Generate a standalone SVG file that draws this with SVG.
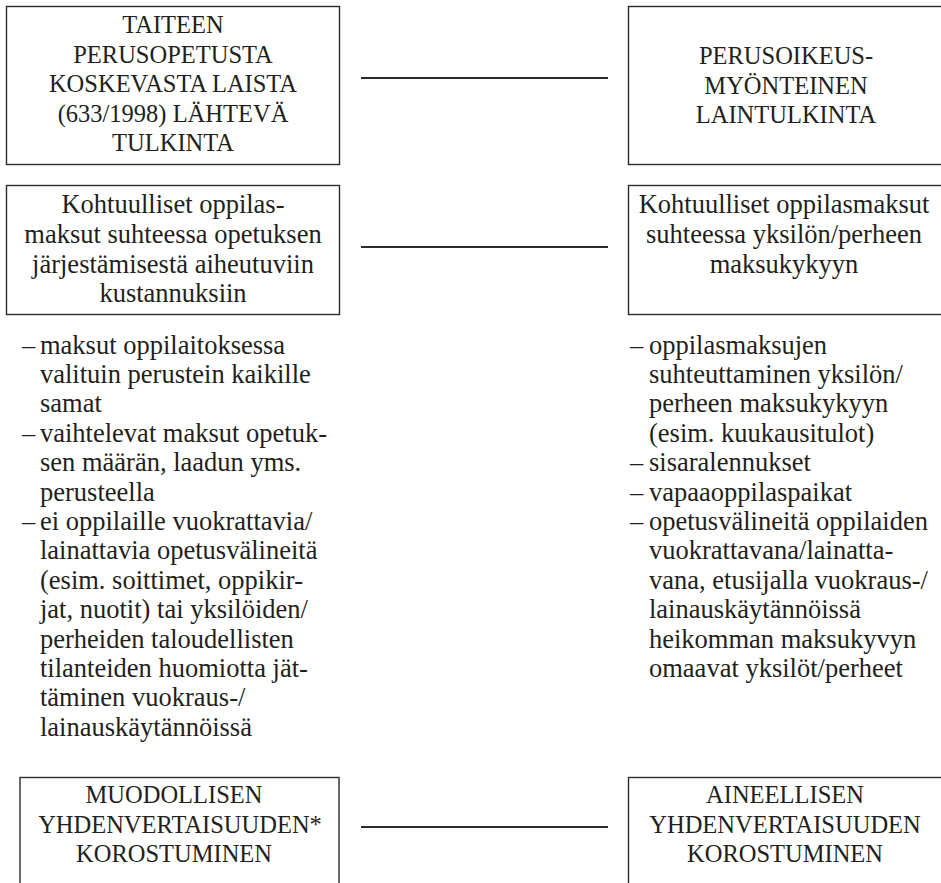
<svg xmlns="http://www.w3.org/2000/svg" width="941" height="883" viewBox="0 0 941 883">
  <style>
    .box { fill: #ffffff; stroke: #2b2b2b; stroke-width: 1.4; }
    .link { stroke: #2b2b2b; stroke-width: 2.2; fill: none; }
    text { font-family: "Liberation Serif", "Times New Roman", serif; fill: #231f20; }
    .caps { font-size: 24.5px; text-anchor: middle; }
    .mid { font-size: 26.5px; text-anchor: middle; }
    .list { font-size: 26.5px; }
  </style>
  <rect width="941" height="883" fill="#ffffff"/>

  <!-- connectors between the paired boxes -->
  <g id="connectors">
    <line class="link" x1="361" y1="78" x2="608" y2="78"/>
    <line class="link" x1="361" y1="247" x2="608" y2="247"/>
    <line class="link" x1="361" y1="827" x2="608" y2="827"/>
  </g>

  <!-- left column -->
  <g id="node-taiteen-tulkinta">
    <rect class="box" x="6.5" y="6.5" width="333" height="158"/>
    <text class="caps" x="173" y="33">TAITEEN</text>
    <text class="caps" x="173" y="62.5">PERUSOPETUSTA</text>
    <text class="caps" x="173" y="92">KOSKEVASTA LAISTA</text>
    <text class="caps" x="173" y="121.5">(633/1998) LÄHTEVÄ</text>
    <text class="caps" x="173" y="151">TULKINTA</text>
  </g>

  <g id="node-kustannukset">
    <rect class="box" x="6.5" y="185.5" width="333" height="129"/>
    <text class="mid" x="173" y="213">Kohtuulliset oppilas-</text>
    <text class="mid" x="173" y="243">maksut suhteessa opetuksen</text>
    <text class="mid" x="173" y="273">järjestämisestä aiheutuviin</text>
    <text class="mid" x="173" y="302">kustannuksiin</text>
  </g>

  <g id="list-left">
    <text class="list">
      <tspan x="22" y="353.5">–</tspan><tspan x="40" y="353.5">maksut oppilaitoksessa</tspan>
      <tspan x="40" y="382.9">valituin perustein kaikille</tspan>
      <tspan x="40" y="412.3">samat</tspan>
      <tspan x="22" y="441.7">–</tspan><tspan x="40" y="441.7">vaihtelevat maksut opetuk-</tspan>
      <tspan x="40" y="471.1">sen määrän, laadun yms.</tspan>
      <tspan x="40" y="500.5">perusteella</tspan>
      <tspan x="22" y="529.9">–</tspan><tspan x="40" y="529.9">ei oppilaille vuokrattavia/</tspan>
      <tspan x="40" y="559.3">lainattavia opetusvälineitä</tspan>
      <tspan x="40" y="588.7">(esim. soittimet, oppikir-</tspan>
      <tspan x="40" y="618.1">jat, nuotit) tai yksilöiden/</tspan>
      <tspan x="40" y="647.5">perheiden taloudellisten</tspan>
      <tspan x="40" y="676.9">tilanteiden huomiotta jät-</tspan>
      <tspan x="40" y="706.3">täminen vuokraus-/</tspan>
      <tspan x="40" y="735.7">lainauskäytännöissä</tspan>
    </text>
  </g>

  <g id="node-muodollinen">
    <rect class="box" x="20" y="777.5" width="319" height="130"/>
    <text class="caps" x="174" y="803">MUODOLLISEN</text>
    <text class="caps" x="180" y="833">YHDENVERTAISUUDEN*</text>
    <text class="caps" x="174" y="862">KOROSTUMINEN</text>
  </g>

  <!-- right column -->
  <g id="node-perusoikeus">
    <rect class="box" x="628.5" y="6.5" width="320" height="158"/>
    <text class="caps" x="786" y="64">PERUSOIKEUS-</text>
    <text class="caps" x="786" y="94">MYÖNTEINEN</text>
    <text class="caps" x="786" y="123">LAINTULKINTA</text>
  </g>

  <g id="node-maksukyky">
    <rect class="box" x="628.5" y="185.5" width="320" height="129"/>
    <text class="mid" x="784" y="213">Kohtuulliset oppilasmaksut</text>
    <text class="mid" x="784" y="243">suhteessa yksilön/perheen</text>
    <text class="mid" x="784" y="273">maksukykyyn</text>
  </g>

  <g id="list-right">
    <text class="list">
      <tspan x="630" y="353.5">–</tspan><tspan x="649" y="353.5">oppilasmaksujen</tspan>
      <tspan x="649" y="382.9">suhteuttaminen yksilön/</tspan>
      <tspan x="649" y="412.3">perheen maksukykyyn</tspan>
      <tspan x="649" y="441.7">(esim. kuukausitulot)</tspan>
      <tspan x="630" y="471.1">–</tspan><tspan x="649" y="471.1">sisaralennukset</tspan>
      <tspan x="630" y="500.5">–</tspan><tspan x="649" y="500.5">vapaaoppilaspaikat</tspan>
      <tspan x="630" y="529.9">–</tspan><tspan x="649" y="529.9">opetusvälineitä oppilaiden</tspan>
      <tspan x="649" y="559.3">vuokrattavana/lainatta-</tspan>
      <tspan x="649" y="588.7">vana, etusijalla vuokraus-/</tspan>
      <tspan x="649" y="618.1">lainauskäytännöissä</tspan>
      <tspan x="649" y="647.5">heikomman maksukyvyn</tspan>
      <tspan x="649" y="676.9">omaavat yksilöt/perheet</tspan>
    </text>
  </g>

  <g id="node-aineellinen">
    <rect class="box" x="628.5" y="777.5" width="320" height="130"/>
    <text class="caps" x="785" y="803">AINEELLISEN</text>
    <text class="caps" x="785" y="833">YHDENVERTAISUUDEN</text>
    <text class="caps" x="785" y="862">KOROSTUMINEN</text>
  </g>
</svg>
